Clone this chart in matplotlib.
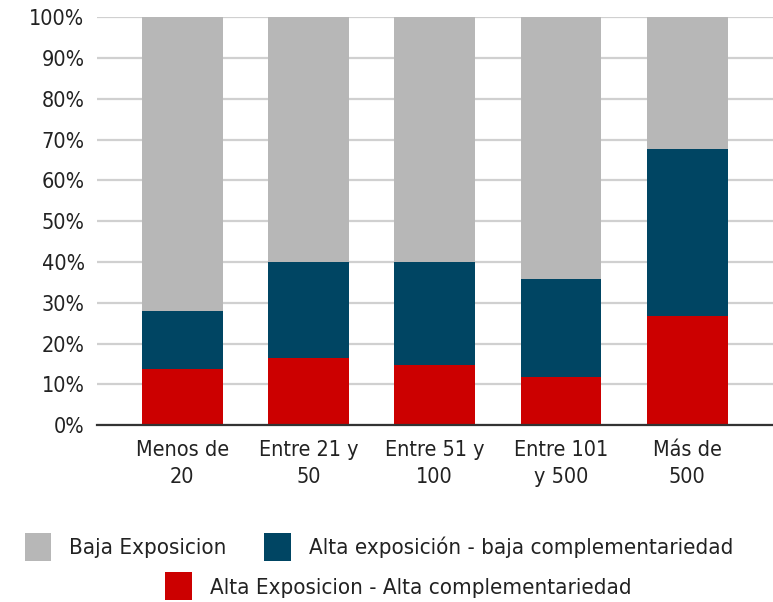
import numpy as np
import matplotlib.pyplot as plt

categories = ["Menos de\n20", "Entre 21 y\n50", "Entre 51 y\n100", "Entre 101\ny 500", "Más de\n500"]
alta_alta = [13.7, 16.5, 14.7, 11.7, 26.8]
alta_baja = [14.3, 23.5, 25.3, 24.1, 40.9]
baja = [72.0, 60.0, 60.0, 64.2, 32.3]

c_gray = "#b7b7b7"
c_blue = "#004563"
c_red = "#cc0000"

plt.rcParams['font.family'] = ['DejaVu Sans']
plt.rcParams['font.stretch'] = 'condensed'

fig = plt.figure(figsize=(7.73, 6.02), dpi=100)
ax = fig.add_axes([0.1255, 0.294, 0.8745, 0.677])

x = np.arange(len(categories))
red = np.array(alta_alta) / 100
blue = np.array(alta_baja) / 100
gray = np.array(baja) / 100
w = 0.64
h_red = ax.bar(x, red, w, color=c_red, zorder=3)
h_blue = ax.bar(x, blue, w, bottom=red, color=c_blue, zorder=3)
h_gray = ax.bar(x, gray, w, bottom=red + blue, color=c_gray, zorder=3)

fs = 15.5
ax.set_xlim(-0.675, 4.68)
ax.set_ylim(0, 1)
ax.set_yticks(np.arange(0, 1.01, 0.1))
ax.set_yticklabels([f"{int(round(v*100))}%" for v in np.arange(0, 1.01, 0.1)], fontsize=fs)
ax.set_xticks(x)
ax.set_xticklabels(categories, fontsize=fs, linespacing=1.45)
ax.tick_params(axis='both', length=0, colors='#222222')
ax.tick_params(axis='y', pad=9)
ax.tick_params(axis='x', pad=11)
ax.yaxis.grid(True, color='#d0d0d0', lw=1.6, zorder=0)
ax.set_axisbelow(True)
for s in ['top', 'right', 'left']:
    ax.spines[s].set_visible(False)
ax.spines['bottom'].set_color('#333333')
ax.spines['bottom'].set_linewidth(1.6)
ax.spines['bottom'].set_zorder(4)

leg_kw = dict(loc='center', frameon=False, fontsize=16, handlelength=1.2,
              handleheight=1.55, handletextpad=0.8, labelcolor='#222222')
fig.legend([h_gray, h_blue], ["Baja Exposicion", "Alta exposición - baja complementariedad"],
           ncol=2, bbox_to_anchor=(0.490, 0.092), columnspacing=1.7, **leg_kw)
fig.legend([h_red], ["Alta Exposicion - Alta complementariedad"],
           bbox_to_anchor=(0.515, 0.026), **leg_kw)

fig.savefig("out.png", dpi=100)
